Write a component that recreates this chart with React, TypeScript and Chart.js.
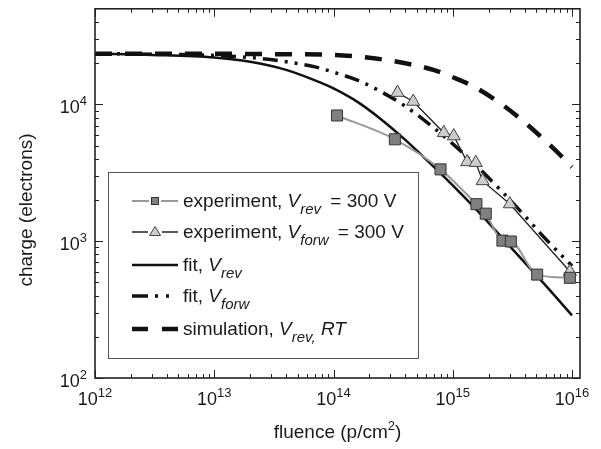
import { useEffect, useRef } from "react";
import { Chart, registerables } from "chart.js";

Chart.register(...registerables);

// ---- data ----
const expRevFluence = [1.07e14, 3.27e14, 7.9e14, 1.58e15, 1.89e15, 2.61e15, 3.07e15, 5.1e15, 9.6e15];
const expRevCharge = [8300, 5560, 3350, 1865, 1590, 1010, 995, 570, 540];

const expForwFluence = [3.44e14, 4.66e14, 8.42e14, 1.02e15, 1.32e15, 1.56e15, 1.78e15, 3.01e15, 9.6e15];
const expForwCharge = [12200, 10500, 6200, 5870, 3800, 3750, 2760, 1870, 600];

const fitFluence = [1e12, 3e12, 1e13, 2e13, 4e13, 7e13, 1e14, 1.6e14, 2.5e14, 4e14, 6e14, 1e15, 1.6e15, 2.5e15, 4e15, 6e15, 1e16];
const fitRevCharge = [23500, 23000, 22000, 20500, 17900, 15000, 13100, 10400, 7800, 5500, 3950, 2560, 1680, 1100, 700, 475, 287];
const fitForwCharge = [23500, 23300, 22800, 22000, 20500, 18800, 17200, 15000, 12400, 9700, 7450, 5150, 3520, 2380, 1540, 1040, 660];

const simFluence = [1e12, 1e13, 3e13, 1e14, 2e14, 4e14, 7e14, 1e15, 1.5e15, 2.5e15, 4e15, 6e15, 8e15, 1e16];
const simCharge = [23500, 23450, 23300, 23000, 21900, 20000, 17800, 15800, 13500, 10200, 7400, 5400, 4250, 3480];

const xDecades = [12, 13, 14, 15, 16];
const yDecades = [2, 3, 4];

const xTitle = "fluence (p/cm";
const yTitle = "charge (electrons)";

const FONT = '"Liberation Sans", Arial, Helvetica, sans-serif';

type Run = { t: string; size: number; italic?: boolean; dy?: number; dx?: number };

function drawRuns(ctx: CanvasRenderingContext2D, x: number, y: number, runs: Run[], align: "left" | "center" | "right" = "left") {
  const widths: number[] = [];
  let total = 0;
  for (const r of runs) {
    ctx.font = `${r.italic ? "italic " : ""}${r.size}px ${FONT}`;
    const w = ctx.measureText(r.t).width + (r.dx || 0);
    widths.push(w);
    total += w;
  }
  let cx = align === "left" ? x : align === "center" ? x - total / 2 : x - total;
  runs.forEach((r, i) => {
    ctx.font = `${r.italic ? "italic " : ""}${r.size}px ${FONT}`;
    ctx.fillText(r.t, cx + (r.dx || 0), y + (r.dy || 0));
    cx += widths[i];
  });
}

const overlay = {
  id: "overlay",
  beforeDraw(chart: any) {
    const ctx = chart.ctx as CanvasRenderingContext2D;
    ctx.save();
    ctx.fillStyle = "#ffffff";
    ctx.fillRect(0, 0, chart.width, chart.height);
    ctx.restore();
  },
  afterDraw(chart: any) {
    const ctx = chart.ctx as CanvasRenderingContext2D;
    const a = chart.chartArea;
    const xs = chart.scales.x;
    const ys = chart.scales.y;
    ctx.save();
    ctx.textBaseline = "alphabetic";
    ctx.fillStyle = "#1a1a1a";

    // ticks
    ctx.strokeStyle = "#222";
    ctx.lineWidth = 1;
    ctx.beginPath();
    for (const e of xDecades) {
      for (let m = 1; m <= 9; m++) {
        const v = m * Math.pow(10, e);
        if (v > xs.max) break;
        const px = Math.round(xs.getPixelForValue(v)) + 0.5;
        const len = m === 1 ? 8 : 4;
        ctx.moveTo(px, a.bottom);
        ctx.lineTo(px, a.bottom - len);
        ctx.moveTo(px, a.top);
        ctx.lineTo(px, a.top + len);
      }
    }
    for (const e of yDecades) {
      for (let m = 1; m <= 9; m++) {
        const v = m * Math.pow(10, e);
        if (v >= ys.max) break;
        const py = Math.round(ys.getPixelForValue(v)) + 0.5;
        const len = m === 1 ? 8 : 4;
        ctx.moveTo(a.left, py);
        ctx.lineTo(a.left + len, py);
        ctx.moveTo(a.right, py);
        ctx.lineTo(a.right - len, py);
      }
    }
    ctx.stroke();

    // frame
    ctx.lineWidth = 1.6;
    ctx.strokeStyle = "#222";
    ctx.strokeRect(a.left, a.top, a.right - a.left, a.bottom - a.top);

    // tick labels
    for (const e of xDecades) {
      const px = xs.getPixelForValue(Math.pow(10, e));
      drawRuns(ctx, px, a.bottom + 27, [
        { t: "10", size: 18 },
        { t: String(e), size: 13, dy: -8 },
      ], "center");
    }
    for (const e of yDecades) {
      const py = ys.getPixelForValue(Math.pow(10, e));
      drawRuns(ctx, a.left - 8, py + 9, [
        { t: "10", size: 18 },
        { t: String(e), size: 13, dy: -8 },
      ], "right");
    }

    // axis titles
    drawRuns(ctx, (a.left + a.right) / 2, 438, [
      { t: xTitle, size: 19 },
      { t: "2", size: 13, dy: -8 },
      { t: ")", size: 19 },
    ], "center");
    ctx.save();
    ctx.translate(32, 210);
    ctx.rotate(-Math.PI / 2);
    ctx.font = `19px ${FONT}`;
    ctx.textAlign = "center";
    ctx.fillText(yTitle, 0, 0);
    ctx.restore();

    // legend box
    ctx.lineWidth = 1;
    ctx.strokeStyle = "#555";
    ctx.strokeRect(108.5, 172.5, 310, 186);

    const baselines = [207, 238, 271, 302, 335];
    const sx0 = 132, sx1 = 178, tx = 183;
    const sym = baselines.map((b) => b - 6);

    // row 1 symbol
    ctx.setLineDash([]);
    ctx.strokeStyle = "#999";
    ctx.lineWidth = 2;
    ctx.beginPath();
    ctx.moveTo(sx0, sym[0]); ctx.lineTo(149, sym[0]);
    ctx.moveTo(161, sym[0]); ctx.lineTo(sx1, sym[0]);
    ctx.stroke();
    ctx.fillStyle = "#808080";
    ctx.strokeStyle = "#333";
    ctx.lineWidth = 1;
    ctx.fillRect(151, sym[0] - 4, 8, 8);
    ctx.strokeRect(151.5, sym[0] - 3.5, 7, 7);

    // row 2 symbol
    ctx.strokeStyle = "#222";
    ctx.lineWidth = 1.3;
    ctx.beginPath();
    ctx.moveTo(sx0, sym[1]); ctx.lineTo(148, sym[1]);
    ctx.moveTo(162, sym[1]); ctx.lineTo(sx1, sym[1]);
    ctx.stroke();
    ctx.fillStyle = "#cccccc";
    ctx.strokeStyle = "#444";
    ctx.lineWidth = 1;
    ctx.beginPath();
    ctx.moveTo(155, sym[1] - 5.5);
    ctx.lineTo(160.5, sym[1] + 3.5);
    ctx.lineTo(149.5, sym[1] + 3.5);
    ctx.closePath();
    ctx.fill();
    ctx.stroke();

    // row 3 symbol
    ctx.strokeStyle = "#111";
    ctx.lineWidth = 2.5;
    ctx.beginPath();
    ctx.moveTo(sx0, sym[2]); ctx.lineTo(sx1, sym[2]);
    ctx.stroke();

    // row 4 symbol
    ctx.lineWidth = 3.5;
    ctx.beginPath();
    ctx.moveTo(sx0, sym[3]); ctx.lineTo(148, sym[3]);
    ctx.moveTo(155, sym[3]); ctx.lineTo(158, sym[3]);
    ctx.moveTo(166, sym[3]); ctx.lineTo(169, sym[3]);
    ctx.stroke();

    // row 5 symbol
    ctx.lineWidth = 4.5;
    ctx.beginPath();
    ctx.moveTo(sx0, sym[4]); ctx.lineTo(148, sym[4]);
    ctx.moveTo(162, sym[4]); ctx.lineTo(sx1, sym[4]);
    ctx.stroke();

    // legend text
    ctx.fillStyle = "#1a1a1a";
    const S = 19, s = 15, d = 7;
    const rows: Run[][] = [
      [{ t: "experiment, ", size: S }, { t: "V", size: S, italic: true }, { t: "rev", size: s, italic: true, dy: d }, { t: " = 300 V", size: S, dx: 4 }],
      [{ t: "experiment, ", size: S }, { t: "V", size: S, italic: true }, { t: "forw", size: s, italic: true, dy: d }, { t: " = 300 V", size: S, dx: 4 }],
      [{ t: "fit, ", size: S }, { t: "V", size: S, italic: true }, { t: "rev", size: s, italic: true, dy: d }],
      [{ t: "fit, ", size: S }, { t: "V", size: S, italic: true }, { t: "forw", size: s, italic: true, dy: d }],
      [{ t: "simulation, ", size: S }, { t: "V", size: S, italic: true }, { t: "rev,", size: s, italic: true, dy: d }, { t: " ", size: S }, { t: "RT", size: S, italic: true }],
    ];
    rows.forEach((r, i) => drawRuns(ctx, tx, baselines[i], r, "left"));

    ctx.restore();
  },
};

function pts(xs: number[], ys: number[]) {
  return xs.map((x, i) => ({ x, y: ys[i] }));
}

export default function App() {
  const ref = useRef<HTMLCanvasElement | null>(null);
  useEffect(() => {
    if (!ref.current) return;
    const chart = new Chart(ref.current, {
      type: "line",
      data: {
        datasets: [
          {
            label: "experiment, Vrev = 300 V",
            data: pts(expRevFluence, expRevCharge),
            borderColor: "#999999",
            borderWidth: 2,
            cubicInterpolationMode: "monotone",
            pointStyle: "rect",
            pointRadius: 7.8,
            pointBackgroundColor: "#808080",
            pointBorderColor: "#333333",
            pointBorderWidth: 1,
          },
          {
            label: "experiment, Vforw = 300 V",
            data: pts(expForwFluence, expForwCharge),
            borderColor: "#222222",
            borderWidth: 1.3,
            tension: 0,
            pointStyle: "triangle",
            pointRadius: 7.5,
            pointBackgroundColor: "#cccccc",
            pointBorderColor: "#444444",
            pointBorderWidth: 1,
          },
          {
            label: "fit, Vrev",
            data: pts(fitFluence, fitRevCharge),
            borderColor: "#111111",
            borderWidth: 2.5,
            cubicInterpolationMode: "monotone",
            pointRadius: 0,
          },
          {
            label: "fit, Vforw",
            data: pts(fitFluence, fitForwCharge),
            borderColor: "#111111",
            borderWidth: 3.5,
            borderDash: [15, 7, 3, 7, 3, 7],
            cubicInterpolationMode: "monotone",
            pointRadius: 0,
          },
          {
            label: "simulation, Vrev, RT",
            data: pts(simFluence, simCharge),
            borderColor: "#111111",
            borderWidth: 4.5,
            borderDash: [17, 13],
            cubicInterpolationMode: "monotone",
            pointRadius: 0,
          },
        ],
      },
      options: {
        responsive: false,
        animation: false,
        devicePixelRatio: 1,
        layout: { padding: { left: 95, right: 21, top: 7, bottom: 71 } },
        scales: {
          x: { type: "logarithmic", min: 1e12, max: 1.167e16, display: false },
          y: { type: "logarithmic", min: 100, max: 5e4, display: false },
        },
        plugins: { legend: { display: false }, tooltip: { enabled: false } },
        events: [],
      },
      plugins: [overlay],
    });
    return () => chart.destroy();
  }, []);
  return (
    <div style={{ position: "absolute", left: 0, top: 0, width: 601, height: 449, background: "#fff" }}>
      <canvas ref={ref} width={601} height={449} style={{ display: "block" }} />
    </div>
  );
}
